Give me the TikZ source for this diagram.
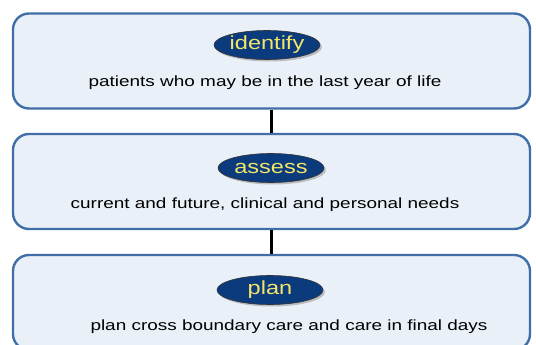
\documentclass[tikz,border=0pt]{standalone}
\usepackage{fontspec}
\setmainfont{Liberation Sans}
\newfontfamily\notefont[FakeStretch=1.28]{Liberation Sans}
\newfontfamily\ovalfont[FakeStretch=1.24]{Liberation Sans}
\usetikzlibrary{shapes.geometric,shadows}

\definecolor{boxfill}{HTML}{EAF0F8}
\definecolor{boxline}{HTML}{3F6FA6}
\definecolor{ovalfill}{HTML}{0B3B7C}
\definecolor{ovaltext}{HTML}{F2E66A}

\tikzset{
	stage/.style={draw=boxline, line width=2.4pt, fill=boxfill, rounded corners=16pt, minimum width=517pt, minimum height=95pt, inner sep=0pt},
	oval/.style={ellipse, draw=black!80, line width=0.6pt, fill=ovalfill, text=ovaltext, minimum width=106pt, minimum height=29pt, inner sep=0pt, font=\ovalfont\fontsize{19}{19}\selectfont, drop shadow={shadow xshift=2pt, shadow yshift=-2pt, fill=black!45}},
	note/.style={font=\notefont\fontsize{14.8}{15}\selectfont, inner sep=0pt},
	link/.style={line width=2.2pt, black}
}

\begin{document}
\begin{tikzpicture}[x=1pt, y=-1pt]
		\useasboundingbox (0, 0) rectangle (536, 345);
		\clip (0, 0) rectangle (536, 345);
		% the three stages
		\node[stage] (identify) at (271.5, 61) {};
		\node[stage] (assess) at (271.5, 181.5) {};
		\node[stage] (plan) at (271.5, 302.5) {};
		\draw[link] (identify.south) -- (assess.north);
		\draw[link] (assess.south) -- (plan.north);
		% labels
		\node[oval] (identifyoval) at (267, 45) {identify};
		\node[note] (identifytext) at (265, 83) {patients who may be in the last year of life};
		\node[oval] (assessoval) at (271, 168) {assess};
		\node[note] (assesstext) at (265, 205) {current and future, clinical and personal needs};
		\node[oval] (planoval) at (270, 290) {plan};
		\node[note] (plantext) at (289, 327) {plan cross boundary care and care in final days};
	\end{tikzpicture}
\end{document}
